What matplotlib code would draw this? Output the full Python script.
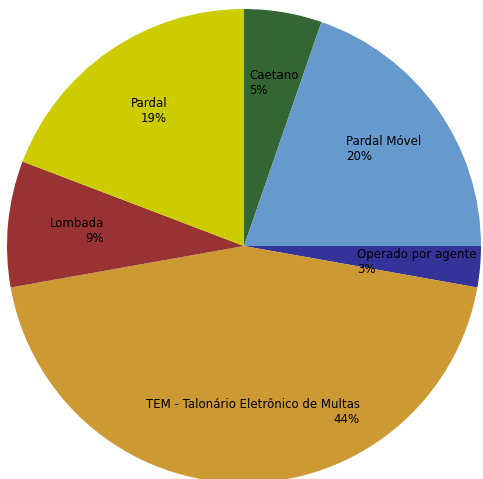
import matplotlib
matplotlib.use("Agg")
import matplotlib.pyplot as plt

categories = ["Caetano", "Pardal Móvel", "Operado por agente",
              "TEM - Talonário Eletrônico de Multas", "Lombada", "Pardal"]
values = [5.3, 19.7, 2.8, 44.4, 8.6, 19.2]
colors = ["#336633", "#6699CC", "#333399", "#CC9933", "#993333", "#CCCC00"]

W, H = 483, 479
cx, cy, r = 244, 246, 237

fig = plt.figure(figsize=(W / 100, H / 100), dpi=100)
ax = fig.add_axes([0, 0, 1, 1])
ax.pie(values, colors=colors, startangle=90, counterclock=False,
       radius=1, wedgeprops=dict(linewidth=0))
ax.set_xlim(-cx / r, (W - cx) / r)
ax.set_ylim(-(H - cy) / r, cy / r)
ax.set_aspect("equal")
ax.axis("off")

# label anchor (pixel) and alignment per slice
label_px = [(249, 83, "left"), (346, 149, "left"), (357, 262, "left"),
            (360, 412, "right"), (104, 231, "right"), (167, 111, "right")]
total = sum(values)
for cat, v, (px, py, ha) in zip(categories, values, label_px):
    pct = round(v / total * 100)
    ax.text((px - cx) / r, (cy - py) / r, f"{cat}\n{pct}%", ha=ha, va="center",
            multialignment=ha, fontsize=8.5, color="black", linespacing=1.2,
            family="DejaVu Sans")

fig.savefig("out.png", dpi=100)
